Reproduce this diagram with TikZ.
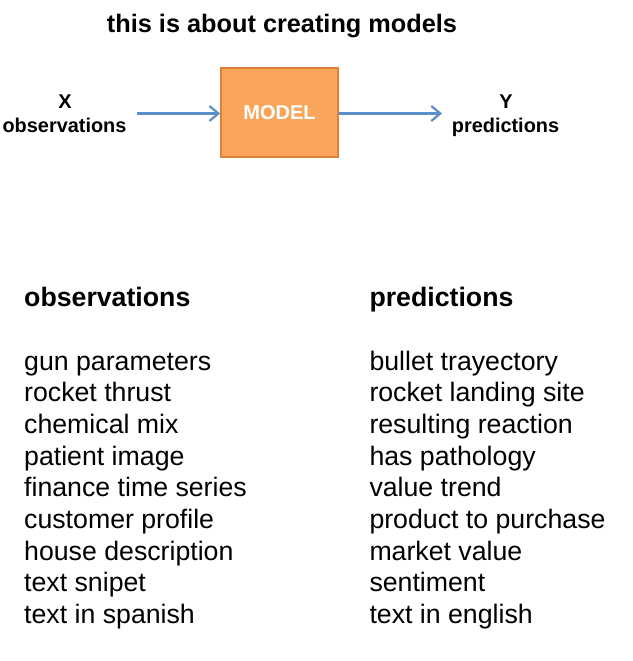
\documentclass[tikz,border=0pt]{standalone}
\usepackage{fontspec}
\setmainfont{Liberation Sans}
\usetikzlibrary{arrows.meta}
\definecolor{boxfill}{RGB}{250,166,90}
\definecolor{boxline}{RGB}{222,128,58}
\definecolor{arrowblue}{RGB}{91,143,199}
\begin{document}
\begin{tikzpicture}[x=1pt,y=-1pt,
  titletext/.style={anchor=base,inner sep=0pt,font=\fontsize{25.3}{30}\selectfont\bfseries},
  iolabel/.style={anchor=base,inner sep=0pt,font=\fontsize{19.9}{23}\selectfont\bfseries},
  modelbox/.style={draw=boxline,fill=boxfill,line width=1.8pt,minimum width=117pt,minimum height=89pt,inner sep=0pt,text=white,font=\fontsize{20}{24}\selectfont\bfseries},
  flow/.style={draw=arrowblue,line width=2.6pt,-{Straight Barb[length=9pt,width=15pt,line width=2.2pt]}},
  colhead/.style={anchor=base west,inner sep=0pt,font=\fontsize{26.7}{31.7}\selectfont\bfseries},
  colitem/.style={anchor=base west,inner sep=0pt,font=\fontsize{26.7}{31.7}\selectfont}]
\useasboundingbox (0,0) rectangle (632,661);
\node[titletext] (title) at (282,32.5) {this is about creating models};
\node[iolabel] (xl) at (65,108) {X};
\node[iolabel] (xobs) at (64.5,132) {observations};
\node[iolabel] (yl) at (506,108) {Y};
\node[iolabel] (ypred) at (505.5,132) {predictions};
\node[modelbox] (model) at (279.5,112.8) {MODEL};
\coordinate (a1) at (137,113.5);
\coordinate (a2) at (442,113.5);
\draw[flow] (a1) -- (model.west |- a1);
\draw[flow] (model.east |- a2) -- (a2);
\node[colhead] (lh) at (24,306.5) {observations};
\node[colhead] (rh) at (369.3,306.5) {predictions};
\foreach \a/\b [count=\i from 0] in {gun parameters/bullet trayectory,rocket thrust/rocket landing site,chemical mix/resulting reaction,patient image/has pathology,finance time series/value trend,customer profile/product to purchase,house description/market value,text snipet/sentiment,text in spanish/text in english}{
  \node[colitem] (l\i) at (24,370+31.7*\i) {\a};
  \node[colitem] (r\i) at (369.3,370+31.7*\i) {\b};
}
\end{tikzpicture}
\end{document}
